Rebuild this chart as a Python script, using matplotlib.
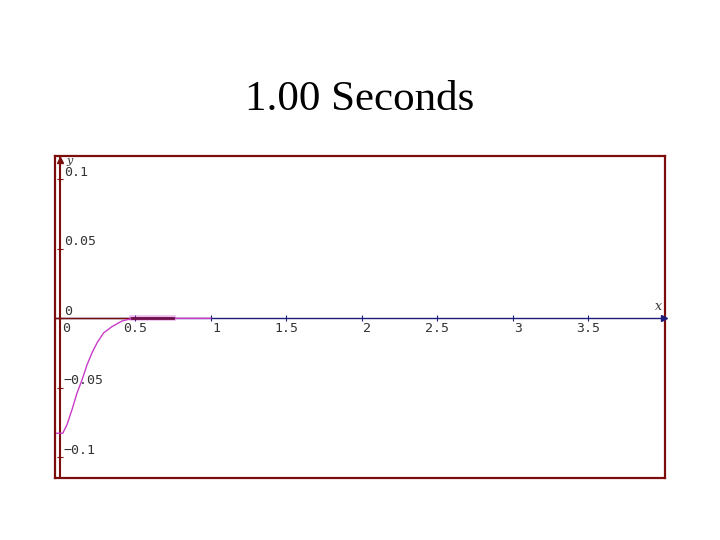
import matplotlib
matplotlib.use("Agg")
import matplotlib.pyplot as plt

# values
curve_x = [-0.02, 0.0, 0.02, 0.048, 0.081, 0.115, 0.148, 0.181, 0.214, 0.247,
           0.291, 0.346, 0.413, 0.466, 0.5, 0.75, 1.0]
curve_y = [-0.0827, -0.0827, -0.0827, -0.0767, -0.0659, -0.0537, -0.0443,
           -0.0335, -0.0249, -0.0177, -0.0105, -0.006, -0.0019, -0.0005,
           0.0, 0.0, 0.0]
flat_x = [0.48, 0.75]
flat_y = [0.0, 0.0]
x_ticks = [0.5, 1, 1.5, 2, 2.5, 3, 3.5]
x_labels = ["0.5", "1", "1.5", "2", "2.5", "3", "3.5"]
y_ticks = [0.1, 0.05, 0, -0.05, -0.1]
y_labels = ["0.1", "0.05", "0", "\u22120.05", "\u22120.1"]
title = "1.00 Seconds"

DARKRED = "#7b0d0d"
NAVY = "#1c1c7a"
MAGENTA = "#c83cc8"
GREY = "#333333"

fig = plt.figure(figsize=(7.2, 5.4), dpi=100)
ax = fig.add_axes([55 / 720, 1 - 478 / 540, 610 / 720, 322 / 540])
ax.set_xlim(-0.031, 4.009)
ax.set_ylim(-0.1149, 0.1168)
ax.set_xticks([])
ax.set_yticks([])
for s in ax.spines.values():
    s.set_color(DARKRED)
    s.set_linewidth(1.6)

# axes lines
ax.plot([-0.031, 4.0], [0, 0], color=NAVY, lw=1.0, zorder=2)
ax.plot([4.0], [0], marker=">", color=NAVY, ms=5, clip_on=False, zorder=3)
ax.plot([-0.031, 0.48], [0, 0], color=DARKRED, lw=1.0, zorder=2)
ax.plot([0, 0], [-0.1149, 0.1168], color=DARKRED, lw=1.5, zorder=2)
ax.plot([0], [0.114], marker="^", color=DARKRED, ms=5, clip_on=False, zorder=3)

# tick marks
ax.plot(x_ticks, [0] * len(x_ticks), ls="none", marker="|", ms=5,
        color=NAVY, mew=0.8, zorder=3)
ax.plot([0] * len(y_ticks), y_ticks, ls="none", marker="_", ms=5,
        color=DARKRED, mew=0.8, zorder=3)

# tick labels
mono = dict(family="DejaVu Sans Mono", fontsize=9.5, color=GREY)
ax.annotate("0", (0, 0), xytext=(2, -3), textcoords="offset points",
            ha="left", va="top", **mono)
for xv, lab in zip(x_ticks, x_labels):
    if "." in lab:
        ax.annotate(lab, (xv, 0), xytext=(0, -3), textcoords="offset points",
                    ha="center", va="top", **mono)
    else:
        ax.annotate(lab, (xv, 0), xytext=(1, -3), textcoords="offset points",
                    ha="left", va="top", **mono)
for yv, lab in zip(y_ticks, y_labels):
    ax.annotate(lab, (0, yv), xytext=(3, 0.5), textcoords="offset points",
                ha="left", va="bottom", **mono)

ax.annotate("y", (0, 0.1168), xytext=(5, 0), textcoords="offset points",
            ha="left", va="top", family="DejaVu Serif", style="italic",
            fontsize=8, color=GREY)
ax.annotate("x", (4.0, 0), xytext=(-4, 4), textcoords="offset points",
            ha="center", va="bottom", family="DejaVu Serif", style="italic",
            fontsize=9, color=GREY)

# the curve
ax.plot(flat_x, flat_y, color=MAGENTA, lw=4, alpha=0.35, zorder=4)
ax.plot(curve_x, curve_y, color=MAGENTA, lw=1.0, zorder=5)
ax.plot(flat_x, flat_y, color="#701048", lw=2.0, zorder=6)

fig.text(0.5, 1 - 110 / 540, title, ha="center", va="baseline",
         family="Liberation Serif", fontsize=31, color="black")

fig.savefig("out.png", dpi=100)
